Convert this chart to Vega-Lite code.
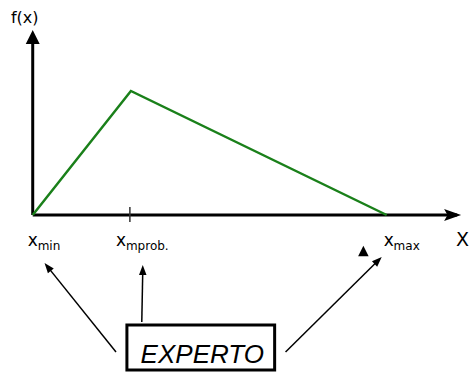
{
  "$schema": "https://vega.github.io/schema/vega-lite/v6.json",
  "width": 470,
  "height": 379,
  "padding": 0,
  "autosize": {"type": "fit", "contains": "padding"},
  "config": {"view": {"stroke": null}, "text": {"font": "DejaVu Sans"}},
  "datasets": {
    "axes": [{"x": 0, "y": 0, "x2": 0, "y2": 178}, {"x": 0, "y": 0, "x2": 428, "y2": 0}],
    "yhead": [{"x": 0, "y": 178}],
    "xhead": [{"x": 423.5, "y": 0}],
    "tri": [{"x": 0, "y": 0, "o": 1}, {"x": 99, "y": 124, "o": 2}, {"x": 357, "y": 0, "o": 3}],
    "tick": [{"x": 98, "y": 8, "x2": 98, "y2": -7}],
    "arrows": [
      {"x": 84, "y": -137, "x2": 15.1, "y2": -51.9},
      {"x": 110, "y": -107, "x2": 111, "y2": -55},
      {"x": 255, "y": -137, "x2": 348.4, "y2": -45.5}
    ],
    "heads": [
      {"x": 15.1, "y": -51.9, "angle": 321},
      {"x": 111, "y": -55, "angle": 0},
      {"x": 348.4, "y": -45.5, "angle": 46}
    ],
    "marker": [{"x": 333.5, "y": -36}],
    "main": [
      {"x": -5, "y": -31, "t": "x"},
      {"x": 84, "y": -31, "t": "x"},
      {"x": 354, "y": -31, "t": "x"}
    ],
    "subs": [
      {"x": 5, "y": -35, "t": "min"},
      {"x": 94, "y": -35, "t": "mprob."},
      {"x": 364, "y": -35, "t": "max"}
    ],
    "xlab": [{"x": 427, "y": -31, "t": "X"}],
    "flab": [{"x": -22, "y": 192, "t": "f(x)"}],
    "box": [{"x": 95, "y": -110, "x2": 244, "y2": -155}],
    "expert": [{"x": 171, "y": -148, "t": "EXPERTO"}]
  },
  "layer": [
    {
      "data": {"name": "axes"},
      "mark": {"type": "rule", "color": "black", "strokeWidth": 3},
      "encoding": {
        "x": {"field": "x", "type": "quantitative", "scale": {"domain": [-33, 437], "nice": false, "zero": false}, "axis": null},
        "y": {"field": "y", "type": "quantitative", "scale": {"domain": [-164, 215], "nice": false, "zero": false}, "axis": null},
        "x2": {"field": "x2"},
        "y2": {"field": "y2"}
      }
    },
    {
      "data": {"name": "yhead"},
      "mark": {"type": "point", "shape": "M0,-1L1,1L-1,1Z", "filled": true, "color": "black", "size": 196, "opacity": 1},
      "encoding": {
        "x": {"field": "x", "type": "quantitative", "scale": {"domain": [-33, 437], "nice": false, "zero": false}, "axis": null},
        "y": {"field": "y", "type": "quantitative", "scale": {"domain": [-164, 215], "nice": false, "zero": false}, "axis": null}
      }
    },
    {
      "data": {"name": "xhead"},
      "mark": {"type": "point", "shape": "M1,0L-1,-0.7L-0.6,0L-1,0.7Z", "filled": true, "color": "black", "size": 289, "opacity": 1},
      "encoding": {
        "x": {"field": "x", "type": "quantitative", "scale": {"domain": [-33, 437], "nice": false, "zero": false}, "axis": null},
        "y": {"field": "y", "type": "quantitative", "scale": {"domain": [-164, 215], "nice": false, "zero": false}, "axis": null}
      }
    },
    {
      "data": {"name": "tri"},
      "mark": {"type": "line", "color": "#1a801a", "strokeWidth": 2.5},
      "encoding": {
        "x": {"field": "x", "type": "quantitative", "scale": {"domain": [-33, 437], "nice": false, "zero": false}, "axis": null},
        "y": {"field": "y", "type": "quantitative", "scale": {"domain": [-164, 215], "nice": false, "zero": false}, "axis": null},
        "order": {"field": "o"}
      }
    },
    {
      "data": {"name": "tick"},
      "mark": {"type": "rule", "color": "#333333", "strokeWidth": 1.5},
      "encoding": {
        "x": {"field": "x", "type": "quantitative", "scale": {"domain": [-33, 437], "nice": false, "zero": false}, "axis": null},
        "y": {"field": "y", "type": "quantitative", "scale": {"domain": [-164, 215], "nice": false, "zero": false}, "axis": null},
        "x2": {"field": "x2"},
        "y2": {"field": "y2"}
      }
    },
    {
      "data": {"name": "arrows"},
      "mark": {"type": "rule", "color": "black", "strokeWidth": 1.5},
      "encoding": {
        "x": {"field": "x", "type": "quantitative", "scale": {"domain": [-33, 437], "nice": false, "zero": false}, "axis": null},
        "y": {"field": "y", "type": "quantitative", "scale": {"domain": [-164, 215], "nice": false, "zero": false}, "axis": null},
        "x2": {"field": "x2"},
        "y2": {"field": "y2"}
      }
    },
    {
      "data": {"name": "heads"},
      "mark": {"type": "point", "shape": "M0,-1L0.75,1L-0.75,1Z", "filled": true, "color": "black", "size": 100, "opacity": 1},
      "encoding": {
        "x": {"field": "x", "type": "quantitative", "scale": {"domain": [-33, 437], "nice": false, "zero": false}, "axis": null},
        "y": {"field": "y", "type": "quantitative", "scale": {"domain": [-164, 215], "nice": false, "zero": false}, "axis": null},
        "angle": {"field": "angle", "type": "quantitative", "scale": null}
      }
    },
    {
      "data": {"name": "marker"},
      "mark": {"type": "point", "shape": "M0,-1L1,1L-1,1Z", "filled": true, "color": "black", "size": 110, "opacity": 1},
      "encoding": {
        "x": {"field": "x", "type": "quantitative", "scale": {"domain": [-33, 437], "nice": false, "zero": false}, "axis": null},
        "y": {"field": "y", "type": "quantitative", "scale": {"domain": [-164, 215], "nice": false, "zero": false}, "axis": null}
      }
    },
    {
      "data": {"name": "main"},
      "mark": {"type": "text", "align": "left", "baseline": "alphabetic", "fontSize": 17, "color": "black"},
      "encoding": {
        "x": {"field": "x", "type": "quantitative", "scale": {"domain": [-33, 437], "nice": false, "zero": false}, "axis": null},
        "y": {"field": "y", "type": "quantitative", "scale": {"domain": [-164, 215], "nice": false, "zero": false}, "axis": null},
        "text": {"field": "t"}
      }
    },
    {
      "data": {"name": "subs"},
      "mark": {"type": "text", "align": "left", "baseline": "alphabetic", "fontSize": 12, "color": "black"},
      "encoding": {
        "x": {"field": "x", "type": "quantitative", "scale": {"domain": [-33, 437], "nice": false, "zero": false}, "axis": null},
        "y": {"field": "y", "type": "quantitative", "scale": {"domain": [-164, 215], "nice": false, "zero": false}, "axis": null},
        "text": {"field": "t"}
      }
    },
    {
      "data": {"name": "xlab"},
      "mark": {"type": "text", "align": "left", "baseline": "alphabetic", "fontSize": 19, "color": "black"},
      "encoding": {
        "x": {"field": "x", "type": "quantitative", "scale": {"domain": [-33, 437], "nice": false, "zero": false}, "axis": null},
        "y": {"field": "y", "type": "quantitative", "scale": {"domain": [-164, 215], "nice": false, "zero": false}, "axis": null},
        "text": {"field": "t"}
      }
    },
    {
      "data": {"name": "flab"},
      "mark": {"type": "text", "align": "left", "baseline": "alphabetic", "fontSize": 16, "color": "black"},
      "encoding": {
        "x": {"field": "x", "type": "quantitative", "scale": {"domain": [-33, 437], "nice": false, "zero": false}, "axis": null},
        "y": {"field": "y", "type": "quantitative", "scale": {"domain": [-164, 215], "nice": false, "zero": false}, "axis": null},
        "text": {"field": "t"}
      }
    },
    {
      "data": {"name": "box"},
      "mark": {"type": "rect", "fill": "white", "stroke": "black", "strokeWidth": 3},
      "encoding": {
        "x": {"field": "x", "type": "quantitative", "scale": {"domain": [-33, 437], "nice": false, "zero": false}, "axis": null},
        "y": {"field": "y", "type": "quantitative", "scale": {"domain": [-164, 215], "nice": false, "zero": false}, "axis": null},
        "x2": {"field": "x2"},
        "y2": {"field": "y2"}
      }
    },
    {
      "data": {"name": "expert"},
      "mark": {"type": "text", "align": "center", "baseline": "alphabetic", "fontSize": 26, "fontStyle": "italic", "font": "Liberation Sans", "color": "black"},
      "encoding": {
        "x": {"field": "x", "type": "quantitative", "scale": {"domain": [-33, 437], "nice": false, "zero": false}, "axis": null},
        "y": {"field": "y", "type": "quantitative", "scale": {"domain": [-164, 215], "nice": false, "zero": false}, "axis": null},
        "text": {"field": "t"}
      }
    }
  ]
}
